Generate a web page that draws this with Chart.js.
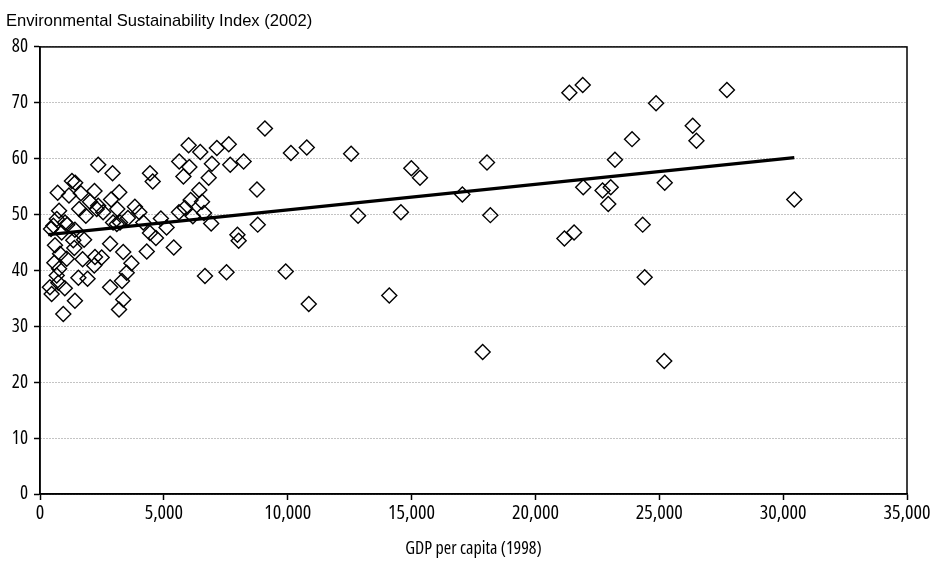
<!DOCTYPE html>
<html>
<head>
<meta charset="utf-8">
<script src="https://cdn.jsdelivr.net/npm/chart.js@4/dist/chart.umd.min.js"></script>
<style>
  html, body { margin: 0; padding: 0; background: #fff; }
  #esi-chart { display: block; }
</style>
</head>
<body>
<canvas id="esi-chart" width="933" height="564"></canvas>
<script>

// Data

var gdp = [
    21370, 21910, 14990, 15340, 18045, 17050, 14570, 18180, 21930, 21170,
    21560, 14100, 17870, 24870, 27730, 26350, 26500, 23900, 23210, 23040,
    22710, 22940, 25220, 30450, 24330, 24410, 25200, 12560, 12840,
    9080, 10770, 10130, 7620, 7140, 6000, 6470, 7680, 6940, 8220,
    6030, 5620, 5790, 6810, 8760, 6430, 6080, 6540, 5850, 5610,
    6620, 6170, 6910, 8790, 7970, 8020, 6660, 7530, 9920, 10850,
    5110, 4880, 5400,
    4440, 4550, 2350, 2930, 3200, 2870, 3120, 3830, 4010, 3550,
    3230, 4170, 4440, 4680, 4310, 3360, 3690, 3500, 3310, 2830,
    3360, 3190, 2830, 2490, 2220, 2190, 2550, 2290, 2350, 2020,
    2200, 3100, 2950,
    1290, 1420, 715, 1170, 1650, 1580, 770, 1850, 680, 540,
    1010, 1100, 445, 875, 1410, 1780, 1345, 605, 1385, 810,
    1080, 1720, 580, 770, 675, 1550, 1920, 1000, 740, 400,
    470, 1410, 940
];

var esi = [
    71.8, 73.2, 58.3, 56.6, 59.3, 53.6, 50.4, 49.9, 54.9, 45.7,
    46.8, 35.5, 25.4, 69.9, 72.3, 65.9, 63.2, 63.5, 59.8, 54.9,
    54.3, 51.9, 55.7, 52.7, 48.2, 38.8, 23.8, 60.9, 49.8,
    65.4, 62.0, 61.0, 62.6, 61.9, 62.4, 61.2, 58.9, 59.1, 59.5,
    58.5, 59.5, 56.8, 56.6, 54.5, 54.4, 52.6, 52.3, 51.2, 50.4,
    50.3, 49.7, 48.4, 48.2, 46.4, 45.3, 39.0, 39.7, 39.8, 34.0,
    47.7, 49.3, 44.1,
    57.4, 55.9, 58.9, 57.4, 54.0, 52.7, 51.0, 51.4, 50.4, 49.4,
    48.6, 48.6, 46.7, 45.8, 43.4, 43.3, 41.3, 39.6, 38.1, 37.0,
    34.8, 33.0, 44.8, 42.3, 42.4, 40.9, 50.4, 51.0, 51.6, 52.3,
    54.2, 48.3, 48.6,
    56.0, 55.7, 53.9, 53.4, 53.8, 51.0, 50.7, 49.8, 49.2, 48.0,
    48.6, 48.2, 47.4, 46.8, 47.3, 45.5, 45.4, 44.5, 44.0, 43.0,
    42.1, 42.0, 41.4, 40.3, 39.1, 38.7, 38.5, 36.8, 37.8, 37.0,
    35.8, 34.6, 32.2
];

// trend line, end points
var trendGdp = [330, 30450];
var trendEsi = [46.4, 60.2];

var xTicks = [0, 5000, 10000, 15000, 20000, 25000, 30000, 35000];
var yTicks = [0, 10, 20, 30, 40, 50, 60, 70, 80];

var chartTitle = 'Environmental Sustainability Index (2002)';
var xTitle = 'GDP per capita (1998)';


// Methods

var regular = "'Liberation Sans', Arial, sans-serif";
// condensed face of Open Sans stands in for Arial Narrow
var narrow = "'Open Sans', 'Liberation Sans', sans-serif";

function pairs(xs, ys) {
    return xs.map(function (x, i) { return { x: x, y: ys[i] }; });
}

// box round the plot area
var frame = {
    id: 'frame',
    afterDatasetsDraw: function (chart) {
        var ctx = chart.ctx, a = chart.chartArea;
        ctx.save();
        ctx.strokeStyle = '#000';
        ctx.lineWidth = 1.5;
        ctx.strokeRect(a.left, a.top, a.right - a.left, a.bottom - a.top);
        ctx.restore();
    }
};

Chart.defaults.color = '#000';

var esiChart = new Chart(document.getElementById('esi-chart'), {
    type: 'scatter',
    data: {
        datasets: [{
            label: 'Countries',
            data: pairs(gdp, esi),
            pointStyle: 'rectRot',
            pointRadius: 7.5,
            pointHoverRadius: 7.5,
            pointBorderWidth: 1.4,
            borderColor: '#000',
            backgroundColor: 'rgba(0,0,0,0)',
            order: 2
        }, {
            type: 'line',
            label: 'Trend',
            data: pairs(trendGdp, trendEsi),
            borderColor: '#000',
            borderWidth: 3.2,
            pointRadius: 0,
            fill: false,
            order: 1
        }]
    },
    options: {
        responsive: false,
        animation: false,
        devicePixelRatio: 1,
        layout: {
            padding: { left: 6, right: 26, top: 0, bottom: 0 }
        },
        plugins: {
            legend: { display: false },
            tooltip: { enabled: false },
            title: {
                display: true,
                text: chartTitle,
                align: 'start',
                color: '#000',
                font: { family: regular, size: 16.6, weight: 'normal' },
                padding: { top: 11, bottom: 16 }
            }
        },
        scales: {
            x: {
                type: 'linear',
                min: 0,
                max: 35000,
                afterBuildTicks: function (scale) {
                    scale.ticks = xTicks.map(function (v) { return { value: v }; });
                },
                afterFit: function (scale) { scale.height = 70; },
                ticks: {
                    padding: 1,
                    maxRotation: 0,
                    font: { family: narrow, size: 20, weight: 'normal condensed' },
                    callback: function (v) { return v.toLocaleString('en-US'); }
                },
                grid: {
                    drawOnChartArea: false,
                    drawTicks: true,
                    tickLength: 6,
                    color: '#000',
                    tickColor: '#000',
                    tickWidth: 1.5
                },
                border: { color: '#000', width: 1.5 },
                title: {
                    display: true,
                    text: xTitle,
                    font: { family: narrow, size: 18, weight: 'normal condensed' },
                    padding: { top: 0, bottom: 4 }
                }
            },
            y: {
                min: 0,
                max: 80,
                afterBuildTicks: function (scale) {
                    scale.ticks = yTicks.map(function (v) { return { value: v }; });
                },
                afterFit: function (scale) { scale.width = 34; },
                ticks: {
                    padding: 6,
                    font: { family: narrow, size: 19, weight: 'normal condensed' }
                },
                grid: {
                    color: '#888',
                    lineWidth: 1,
                    tickLength: 6,
                    tickColor: '#000',
                    tickWidth: 1.5,
                    tickBorderDash: []
                },
                border: { color: '#000', width: 1.5, dash: [1, 2] }
            }
        }
    },
    plugins: [frame]
});

</script>
</body>
</html>
